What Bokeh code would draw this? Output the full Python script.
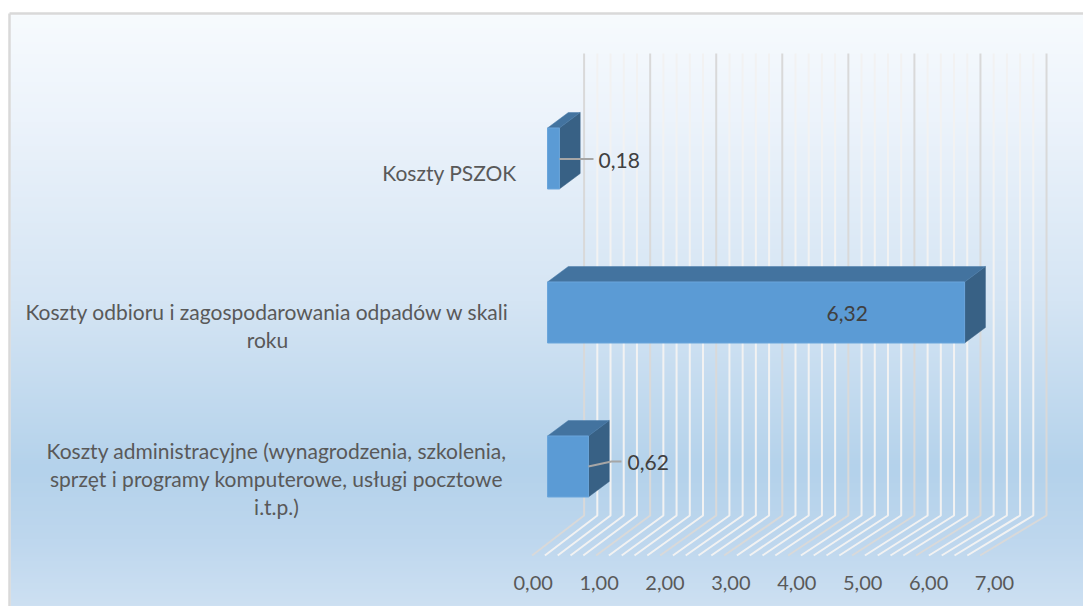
import numpy as np
from bokeh.plotting import figure
from bokeh.models import Range1d, LinearAxis, FixedTicker, ColumnDataSource
from bokeh.core.properties import value
from bokeh.embed import file_html
from bokeh.resources import INLINE

categories = ["Koszty administracyjne (wynagrodzenia, szkolenia,\nsprzęt i programy komputerowe, usługi pocztowe\ni.t.p.)",
              "Koszty odbioru i zagospodarowania odpadów w skali\nroku",
              "Koszty PSZOK"]
values = [0.62, 6.32, 0.18]
value_labels = ["0,62", "6,32", "0,18"]
tick_values = [0, 1, 2, 3, 4, 5, 6, 7]
tick_labels = ["0,00", "1,00", "2,00", "3,00", "4,00", "5,00", "6,00", "7,00"]

W, H = 1083, 606
PXU = 66.0      # pixels per value unit
X0 = 547.0      # picture px of value 0 on the bars' front plane
YU = 154.0      # pixels per category step
Y0 = 466.0      # picture px of category 0 centre

def px2x(px): return (np.asarray(px, dtype=float) - X0) / PXU
def px2y(py): return (Y0 - np.asarray(py, dtype=float)) / YU

FONT = value("Lato")
p = figure(width=W, height=H, output_backend="svg", toolbar_location=None,
           x_range=Range1d(float(px2x(0)), float(px2x(W))),
           y_range=Range1d(float(px2y(H)), float(px2y(0))),
           min_border=0, outline_line_color=None, background_fill_color="white",
           border_fill_color="white", x_axis_type=None, y_axis_type=None)
p.grid.visible = False

# background gradient
stops_py = [14, 120, 300, 470, 540, 606]
stops_c = np.array([[247, 251, 254], [236, 243, 251], [213, 229, 244], [180, 210, 235], [190, 215, 238], [205, 224, 242]], dtype=float)
rows = np.arange(606, 13, -2.0)
img = np.zeros((len(rows), 1, 4), dtype=np.uint8)
for k in range(3):
    img[:, 0, k] = np.interp(rows, stops_py, stops_c[:, k]).astype(np.uint8)
img[:, 0, 3] = 255
img32 = img.view(np.uint32).reshape(len(rows), 1)
p.image_rgba(image=[img32], x=float(px2x(10)), y=float(px2y(606)),
             dw=float((1083 - 10) / PXU), dh=float((606 - 14) / YU))
p.segment(x0=[float(px2x(9))] * 2, y0=[float(px2y(606)), float(px2y(13))],
          x1=[float(px2x(9)), float(px2x(1083))], y1=[float(px2y(13))] * 2,
          line_color="#D9D9D9", line_width=2.5)

# 3D walls: gridlines
BACK_X0 = 583.6
BACK_U = 66.06
FRONT_X0 = 531.6
FRONT_U = 64.0
TOP, BOT, FLOOR = 53.0, 515.0, 555.0
grid_v = np.arange(0, 7.0001, 0.2)
major = np.isclose(grid_v, np.round(grid_v))
for mask, col in ((~major, "#F2F2F2"), (major, "#D9D9D9")):
    gv = grid_v[mask]
    bx = px2x(BACK_X0 + BACK_U * gv)
    fx = px2x(FRONT_X0 + FRONT_U * gv)
    xs = [[b, b, f] for b, f in zip(bx, fx)]
    ys = [[float(px2y(TOP)), float(px2y(BOT)), float(px2y(FLOOR))] for _ in gv]
    p.multi_line(xs, ys, line_color=col, line_width=2)

# bars
DX = 20.8 / PXU
DY = 15.5 / YU
BH = 61.0 / YU
ypos = list(range(len(values)))
src = ColumnDataSource(dict(l=[0.0] * 3, r=values, y=ypos))
tops_x, tops_y, side_x, side_y = [], [], [], []
for v, y in zip(values, ypos):
    t, b = y + BH / 2, y - BH / 2
    tops_x.append([0, v, v + DX, DX]); tops_y.append([t, t, t + DY, t + DY])
    side_x.append([v, v + DX, v + DX, v]); side_y.append([t, t + DY, b + DY, b])
p.patches(side_x, side_y, fill_color="#386185", line_color="#386185", line_width=0.5)
p.patches(tops_x, tops_y, fill_color="#43739F", line_color="#4A7DAB", line_width=0.5)
p.hbar(y="y", left="l", right="r", height=BH, source=src,
       fill_color="#5B9BD5", line_color="#6AA5DB", line_width=1)

# leader lines
lead_x = [[values[0], float(px2x(611)), float(px2x(621))],
          [values[2], float(px2x(593))]]
lead_y = [[float(px2y(466)), float(px2y(461)), float(px2y(461))],
          [float(px2y(158.5)), float(px2y(158.5))]]
p.multi_line(lead_x, lead_y, line_color="#A6A6A6", line_width=2.2)

# data labels
lab_x = [float(px2x(627)), float(px2x(826)), float(px2x(598))]
lab_y = [float(px2y(462)), float(px2y(313)), float(px2y(160))]
p.text(lab_x, lab_y, text=value_labels, text_font=FONT, text_font_size="21px",
       text_color="#404040", text_align="left", text_baseline="middle")

# category labels
cat_cx = [276, 267, 449]
cat_cy = [478, 324.5, 172]
p.text([float(px2x(c)) for c in cat_cx], [float(px2y(c)) for c in cat_cy], text=categories,
       text_font=FONT, text_font_size="21px", text_color="#595959",
       text_align="center", text_baseline="middle", text_line_height=1.12)

# value axis labels
p.extra_x_ranges["floor"] = Range1d((0 - 532.7) / 65.9, (W - 532.7) / 65.9)
ax = LinearAxis(x_range_name="floor", ticker=FixedTicker(ticks=tick_values),
                major_label_overrides=dict(zip(tick_values, tick_labels)),
                fixed_location=float(px2y(567.5)), axis_line_color=None,
                major_tick_line_color=None, minor_tick_line_color=None,
                major_label_text_font="Lato", major_label_text_font_size="20px",
                major_label_text_color="#595959", major_label_standoff=2)
p.add_layout(ax, "below")

open("out.html", "w").write(file_html(p, INLINE))
